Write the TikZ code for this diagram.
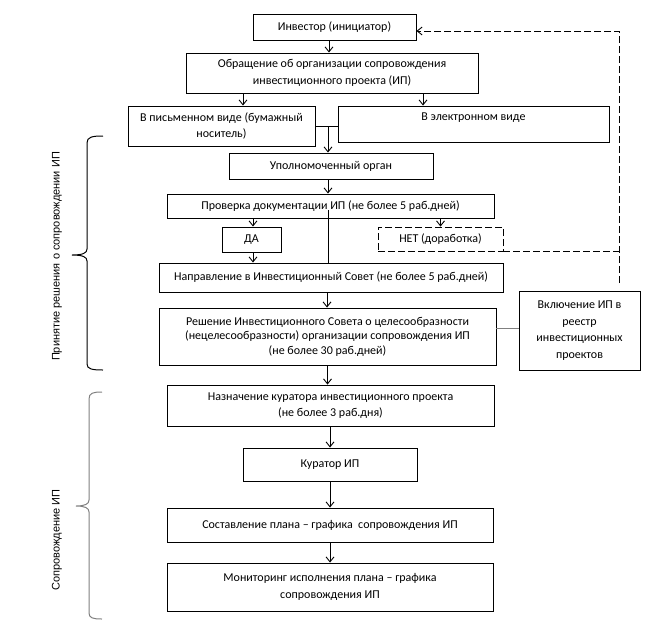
\documentclass[tikz,border=0pt]{standalone}
\usepackage{fontspec}
\setmainfont{Carlito}
\newfontfamily\sidefont{Liberation Sans}
\usetikzlibrary{arrows.meta,calc}
\begin{document}
\begin{tikzpicture}[x=1pt,y=-1pt,
  box/.style={draw,line width=0.9pt,inner sep=0pt,align=center,font=\fontsize{12}{16.5}\selectfont},
  arr/.style={-{Straight Barb[length=5pt,width=8pt]},line width=0.9pt},
  dsh/.style={dash pattern=on 7pt off 3pt,line width=0.9pt},
  bracel/.style={line width=1pt},
  sidelbl/.style={rotate=90,font=\sidefont\fontsize{11}{13}\selectfont}]
\path[use as bounding box] (0,0) rectangle (653,630);
% boxes
\node[box,minimum width=163pt,minimum height=26pt] (inv) at (334.5,27) {Инвестор (инициатор)};
\node[box,minimum width=292pt,minimum height=40pt] (obr) at (332,73) {Обращение об организации сопровождения\\инвестиционного проекта (ИП)};
\node[box,minimum width=187pt,minimum height=40pt] (pis) at (221.5,126) {В письменном виде (бумажный\\носитель)};
\node[box,minimum width=271pt,minimum height=36pt,text height=8pt,text depth=14.5pt] (ele) at (473.5,124) {В электронном виде};
\node[box,minimum width=204pt,minimum height=26pt] (upo) at (331,166) {Уполномоченный орган};
\node[box,minimum width=327pt,minimum height=24pt] (pro) at (330.5,206) {Проверка документации ИП (не более 5 раб.дней)};
\node[box,minimum width=59pt,minimum height=25pt] (da) at (251.5,239.5) {ДА};
\node[box,dsh,minimum width=125pt,minimum height=24pt] (net) at (440.5,239) {НЕТ (доработка)};
\node[box,minimum width=344pt,minimum height=29pt] (nap) at (331,277.5) {Направление в Инвестиционный Совет (не более 5 раб.дней)};
\node[box,minimum width=337pt,minimum height=57pt,font=\fontsize{12}{14.5}\selectfont] (res) at (327.5,336.5) {Решение Инвестиционного Совета о целесообразности\\(нецелесообразности) организации сопровождения ИП\\(не более 30 раб.дней)};
\node[box,minimum width=121pt,minimum height=79pt] (vkl) at (579.5,330.5) {Включение ИП в\\реестр\\инвестиционных\\проектов};
\node[box,minimum width=327pt,minimum height=41pt,font=\fontsize{12}{16}\selectfont] (naz) at (330.5,405.5) {Назначение куратора инвестиционного проекта\\(не более 3 раб.дня)};
\node[box,minimum width=174pt,minimum height=33pt] (kur) at (330,464.5) {Куратор ИП};
\node[box,minimum width=326pt,minimum height=34pt] (sos) at (330,525) {Составление плана – графика\ \ сопровождения ИП};
\node[box,minimum width=326pt,minimum height=48pt] (mon) at (330,587) {Мониторинг исполнения плана – графика\\сопровождения ИП};
% connectors
\draw[arr] ([xshift=-5.5pt]inv.south) -- ([xshift=-5.5pt]inv.south |- obr.north);
\draw[arr] ([xshift=21.5pt]pis.north |- obr.south) -- ([xshift=21.5pt]pis.north);
\draw[arr] ([xshift=-50.5pt]ele.north |- obr.south) -- ([xshift=-50.5pt]ele.north);
\draw[line width=0.9pt] (pis.east) -- (pis.east -| ele.west);
\coordinate (j) at (328,126);
\draw[arr] (j) -- (j |- upo.north);
\draw[arr] ([xshift=-3pt]upo.south) -- ([xshift=-3pt]upo.south |- pro.north);
\coordinate (pv) at (328,210);
\draw[line width=0.9pt] (pv) -- (pv |- nap.north);
\draw[arr] ([xshift=1.5pt]da.north |- pro.south) -- ([xshift=1.5pt]da.north);
\draw[arr] (net.north |- pro.south) -- (net.north);
\draw[arr] ([xshift=1.5pt]da.south) -- ([xshift=1.5pt]da.south |- nap.north);
\draw[arr] ([xshift=-4pt]nap.south) -- ([xshift=-4pt]nap.south |- res.north);
\draw[gray,line width=0.9pt] ([yshift=8.5pt]res.east) -- ([yshift=8.5pt]res.east -| vkl.west);
\draw[arr] (res.south) -- (res.south |- naz.north);
\draw[arr] (kur.north |- naz.south) -- (kur.north);
\draw[arr] (kur.south) -- (kur.south |- sos.north);
\draw[arr] (sos.south) -- (sos.south |- mon.north);
% dashed feedback
\coordinate (dt) at (619,283);
\draw[dsh,arr] (dt) |- ([yshift=-4pt]inv.east);
\draw[dsh] (net.south east) -- (net.south east -| dt);
% braces
\draw[bracel] (103,136) .. controls (92,136) and (87,137) .. (87,143) -- (87,249)
  .. controls (87,253) and (83,255) .. (72,255) .. controls (83,255) and (87,257) .. (87,261)
  -- (87,364) .. controls (87,369) and (92,370) .. (103,370);
\draw[bracel,gray] (102,392) .. controls (93,392) and (89,393) .. (89,399) -- (89,500)
  .. controls (89,504) and (85,506) .. (76,506) .. controls (85,506) and (89,508) .. (89,512)
  -- (89,613) .. controls (89,618) and (93,619) .. (102,619);
\node[sidelbl] (l1) at (57,256.5) {Принятие решения о сопровождении ИП};
\node[sidelbl] (l2) at (57,540) {Сопровождение ИП};
\end{tikzpicture}
\end{document}
